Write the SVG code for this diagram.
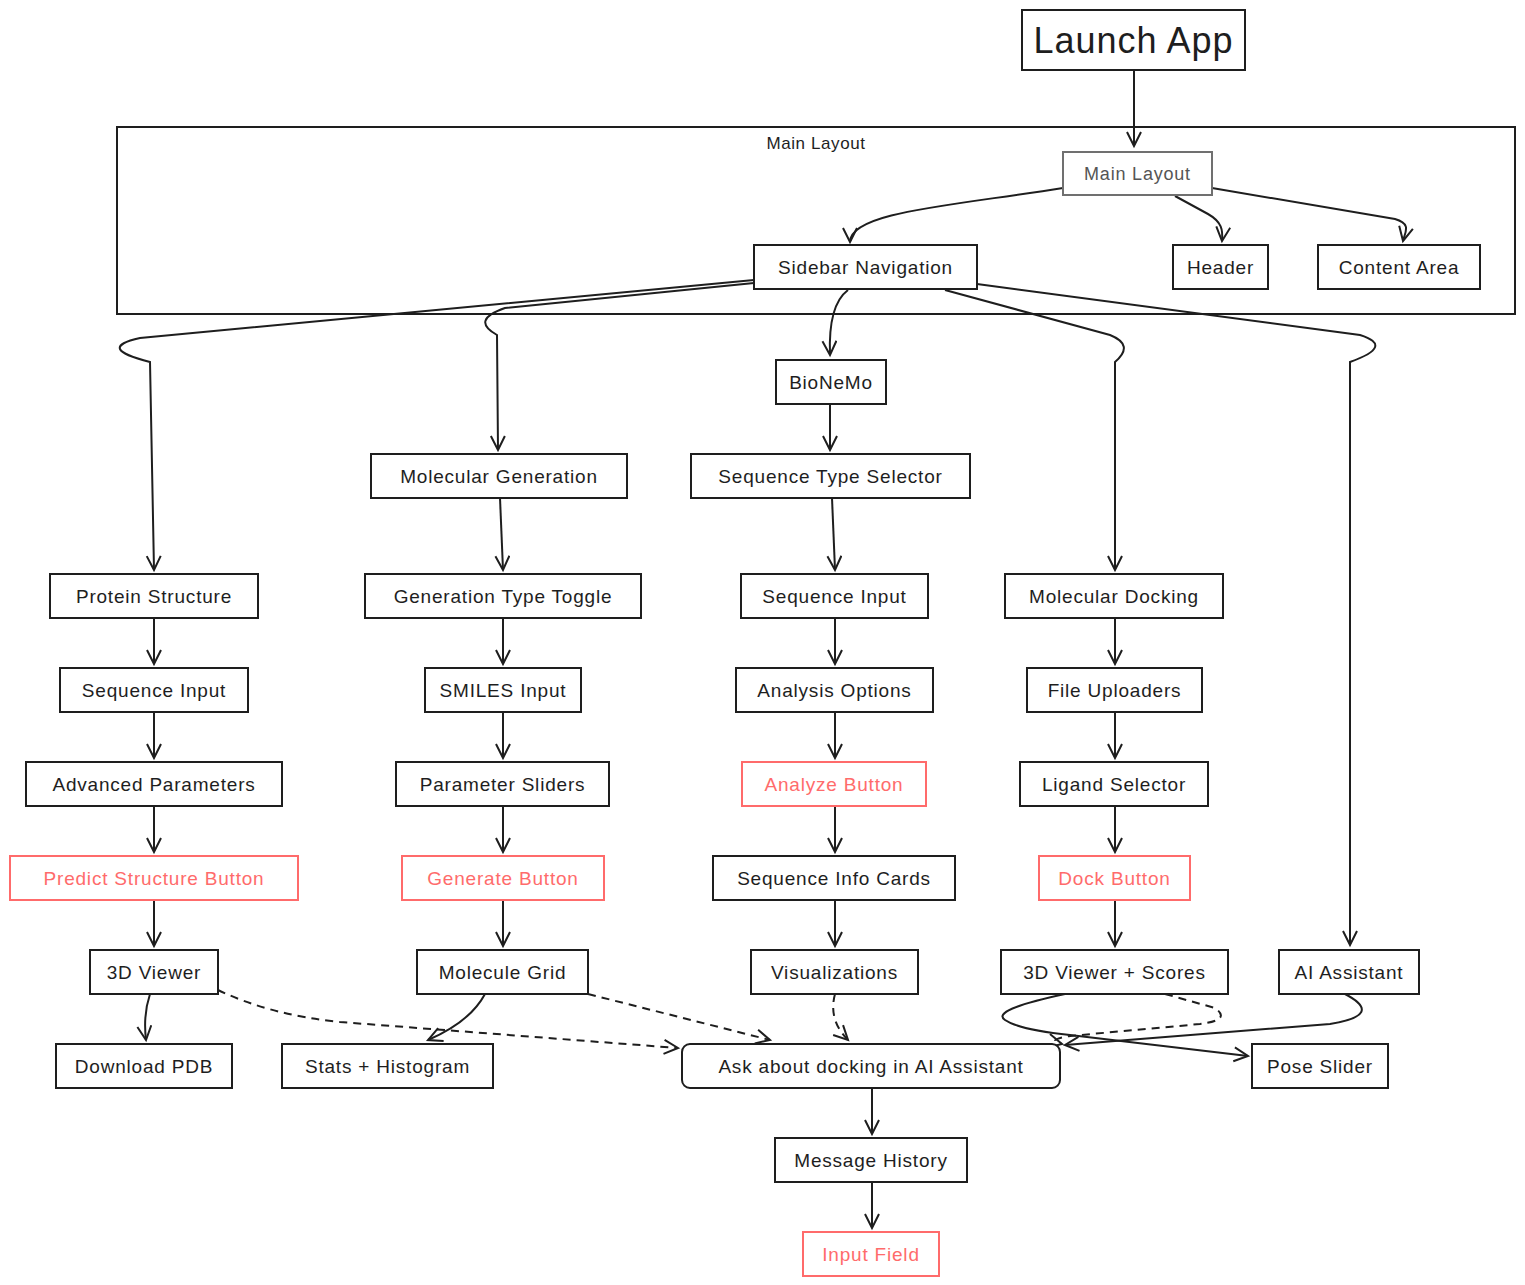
<svg xmlns="http://www.w3.org/2000/svg" width="1525" height="1285" viewBox="0 0 1525 1285">
<style>
.n rect{fill:#fff;stroke:#1e1e1e;stroke-width:2}
.n text{font-family:"Liberation Sans",Arial,sans-serif;font-size:19px;letter-spacing:0.8px;fill:#1e1e1e;text-anchor:middle;dominant-baseline:central}
.r rect{stroke:#ff6b6b}
.r text{fill:#ff6b6b}
.g rect{stroke:#707070}
.g text{fill:#555}
.c path{fill:none;stroke:#1e1e1e;stroke-width:2;marker-end:url(#ah)}
.c .d{stroke-dasharray:8 6}
</style>
<defs>
<marker id="ah" markerUnits="userSpaceOnUse" markerWidth="20" markerHeight="20" refX="15" refY="8" orient="auto">
<path d="M1,1 L15,8 L1,15" fill="none" stroke="#1e1e1e" stroke-width="2" stroke-dasharray="none"/>
</marker>
</defs>
<rect width="1525" height="1285" fill="#fff"/>
<g id="main-layout-group">
<rect x="117" y="127" width="1398" height="187" fill="none" stroke="#1e1e1e" stroke-width="2"/>
<text x="816" y="143" font-family="'Liberation Sans',Arial,sans-serif" font-size="17" letter-spacing="0.6" fill="#1e1e1e" text-anchor="middle" dominant-baseline="central">Main Layout</text>
</g>
<g class="c" id="connectors">
<path d="M1134,70 L1134,146"/>
<path d="M1063,188 C950,206 850,212 850,242"/>
<path d="M1175,196 L1208,214 C1222,222 1223,230 1222,241"/>
<path d="M1212,188 L1395,219 C1412,224 1405,232 1403,241"/>
<path d="M754,280 L140,338 Q95,348 150,362 L154,570"/>
<path d="M754,283 L505,308 Q470,320 497,335 L498,450"/>
<path d="M848,290 Q828,305 830,355"/>
<path d="M945,290 L1110,335 Q1135,345 1115,362 L1115,570"/>
<path d="M977,284 L1360,335 Q1395,346 1350,362 L1350,945"/>
<path d="M830,404 L830,450"/>
<path d="M500,498 L503,570"/>
<path d="M832,498 L835,570"/>
<path d="M154,618 L154,664"/>
<path d="M154,712 L154,758"/>
<path d="M154,806 L154,852"/>
<path d="M154,900 L154,946"/>
<path d="M503,618 L503,664"/>
<path d="M503,712 L503,758"/>
<path d="M503,806 L503,852"/>
<path d="M503,900 L503,946"/>
<path d="M835,618 L835,664"/>
<path d="M835,712 L835,758"/>
<path d="M835,806 L835,852"/>
<path d="M835,900 L835,946"/>
<path d="M1115,618 L1115,664"/>
<path d="M1115,712 L1115,758"/>
<path d="M1115,806 L1115,852"/>
<path d="M1115,900 L1115,946"/>
<path d="M150,994 Q143,1015 146,1040"/>
<path d="M485,994 Q470,1022 428,1040"/>
<path class="d" d="M218,990 Q270,1015 340,1022 L678,1048"/>
<path class="d" d="M588,994 L770,1040"/>
<path class="d" d="M835,994 Q828,1020 848,1040"/>
<path d="M1065,994 Q990,1010 1005,1020 Q1020,1030 1070,1035 L1248,1056"/>
<path class="d" d="M1165,994 L1215,1008 Q1232,1020 1200,1024 L1070,1036 Q1045,1040 1062,1044"/>
<path d="M1345,994 Q1385,1015 1330,1024 L1065,1045"/>
<path d="M872,1088 L872,1134"/>
<path d="M872,1182 L872,1228"/>
</g>
<g class="n" id="launch-app"><rect x="1022" y="10" width="223" height="60"/><text x="1133.5" y="40" style="font-size:36px;letter-spacing:1px">Launch App</text></g>
<g class="n g" id="main-layout"><rect x="1063" y="152" width="149" height="43"/><text x="1137.5" y="173.5" style="font-size:18px">Main Layout</text></g>
<g class="n" id="sidebar-navigation"><rect x="754" y="245" width="223" height="44"/><text x="865.5" y="267">Sidebar Navigation</text></g>
<g class="n" id="header"><rect x="1173" y="245" width="95" height="44"/><text x="1220.5" y="267">Header</text></g>
<g class="n" id="content-area"><rect x="1318" y="245" width="162" height="44"/><text x="1399" y="267">Content Area</text></g>
<g class="n" id="bionemo"><rect x="776" y="360" width="110" height="44"/><text x="831" y="382">BioNeMo</text></g>
<g class="n" id="molecular-generation"><rect x="371" y="454" width="256" height="44"/><text x="499" y="476">Molecular Generation</text></g>
<g class="n" id="sequence-type-selector"><rect x="691" y="454" width="279" height="44"/><text x="830.5" y="476">Sequence Type Selector</text></g>
<g class="n" id="protein-structure"><rect x="50" y="574" width="208" height="44"/><text x="154" y="596">Protein Structure</text></g>
<g class="n" id="generation-type-toggle"><rect x="365" y="574" width="276" height="44"/><text x="503" y="596">Generation Type Toggle</text></g>
<g class="n" id="sequence-input-2"><rect x="741" y="574" width="187" height="44"/><text x="834.5" y="596">Sequence Input</text></g>
<g class="n" id="molecular-docking"><rect x="1005" y="574" width="218" height="44"/><text x="1114" y="596">Molecular Docking</text></g>
<g class="n" id="sequence-input-1"><rect x="60" y="668" width="188" height="44"/><text x="154" y="690">Sequence Input</text></g>
<g class="n" id="smiles-input"><rect x="425" y="668" width="156" height="44"/><text x="503" y="690">SMILES Input</text></g>
<g class="n" id="analysis-options"><rect x="736" y="668" width="197" height="44"/><text x="834.5" y="690">Analysis Options</text></g>
<g class="n" id="file-uploaders"><rect x="1027" y="668" width="175" height="44"/><text x="1114.5" y="690">File Uploaders</text></g>
<g class="n" id="advanced-parameters"><rect x="26" y="762" width="256" height="44"/><text x="154" y="784">Advanced Parameters</text></g>
<g class="n" id="parameter-sliders"><rect x="396" y="762" width="213" height="44"/><text x="502.5" y="784">Parameter Sliders</text></g>
<g class="n r" id="analyze-button"><rect x="742" y="762" width="184" height="44"/><text x="834" y="784">Analyze Button</text></g>
<g class="n" id="ligand-selector"><rect x="1020" y="762" width="188" height="44"/><text x="1114" y="784">Ligand Selector</text></g>
<g class="n r" id="predict-structure-button"><rect x="10" y="856" width="288" height="44"/><text x="154" y="878">Predict Structure Button</text></g>
<g class="n r" id="generate-button"><rect x="402" y="856" width="202" height="44"/><text x="503" y="878">Generate Button</text></g>
<g class="n" id="sequence-info-cards"><rect x="713" y="856" width="242" height="44"/><text x="834" y="878">Sequence Info Cards</text></g>
<g class="n r" id="dock-button"><rect x="1039" y="856" width="151" height="44"/><text x="1114.5" y="878">Dock Button</text></g>
<g class="n" id="3d-viewer"><rect x="90" y="950" width="128" height="44"/><text x="154" y="972">3D Viewer</text></g>
<g class="n" id="molecule-grid"><rect x="417" y="950" width="171" height="44"/><text x="502.5" y="972">Molecule Grid</text></g>
<g class="n" id="visualizations"><rect x="751" y="950" width="167" height="44"/><text x="834.5" y="972">Visualizations</text></g>
<g class="n" id="3d-viewer-scores"><rect x="1001" y="950" width="227" height="44"/><text x="1114.5" y="972">3D Viewer + Scores</text></g>
<g class="n" id="ai-assistant"><rect x="1279" y="950" width="140" height="44"/><text x="1349" y="972">AI Assistant</text></g>
<g class="n" id="download-pdb"><rect x="56" y="1044" width="176" height="44"/><text x="144" y="1066">Download PDB</text></g>
<g class="n" id="stats-histogram"><rect x="282" y="1044" width="211" height="44"/><text x="387.5" y="1066">Stats + Histogram</text></g>
<g class="n" id="ask-ai"><rect x="682" y="1044" width="378" height="44" rx="8"/><text x="871" y="1066">Ask about docking in AI Assistant</text></g>
<g class="n" id="pose-slider"><rect x="1252" y="1044" width="136" height="44"/><text x="1320" y="1066">Pose Slider</text></g>
<g class="n" id="message-history"><rect x="775" y="1138" width="192" height="44"/><text x="871" y="1160">Message History</text></g>
<g class="n r" id="input-field"><rect x="803" y="1232" width="136" height="44"/><text x="871" y="1254">Input Field</text></g>
</svg>
